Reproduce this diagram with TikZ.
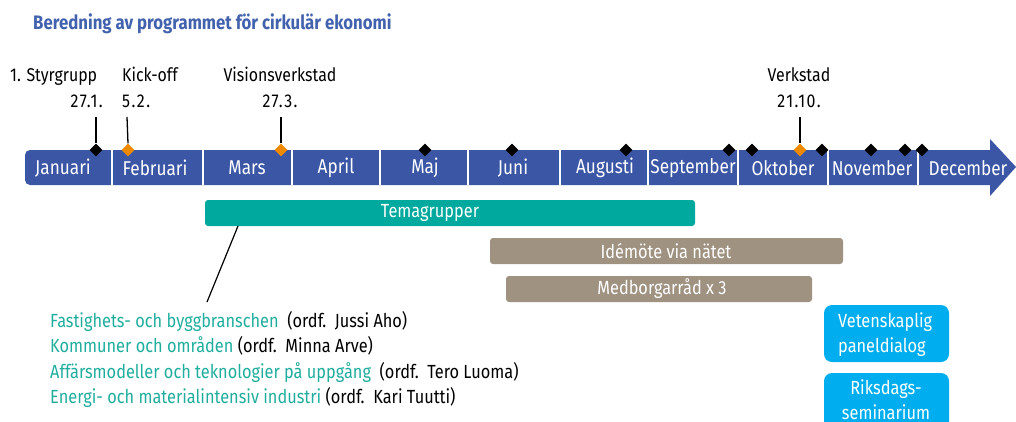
\documentclass[tikz,border=0pt]{standalone}
\usepackage{fontspec}
\setmainfont{Fira Sans}[FakeStretch=0.86]
\usepackage{tikz}
\usetikzlibrary{shapes.geometric}

\definecolor{bar_blue}{HTML}{3A56A5}
\definecolor{title_blue}{HTML}{4262AE}
\definecolor{tema_teal}{HTML}{00A99D}
\definecolor{tema_text}{HTML}{1FAE9E}
\definecolor{taupe}{HTML}{A09281}
\definecolor{cyan_box}{HTML}{00AEEF}
\definecolor{ms_orange}{HTML}{EF8A00}

\begin{document}
\begin{tikzpicture}[x=1pt, y=-1pt,
		month_style/.style={text=white,font=\fontsize{20}{20}\selectfont,inner sep=0pt},
		label_style/.style={font=\fontsize{18.5}{20}\selectfont,inner sep=0pt},
		date_style/.style={font=\fontsize{18.5}{20}\selectfont\addfontfeature{LetterSpace=8},inner sep=0pt},
		dia_style/.style={diamond,fill=black,inner sep=0pt,minimum size=13pt},
		key_style/.style={diamond,fill=ms_orange,inner sep=0pt,minimum size=13pt},
		stem_style/.style={draw=black,line width=1.3pt},
		bar_style/.style={rounded corners=3pt,text=white,font=\fontsize{19}{20}\selectfont},
		box_style/.style={fill=cyan_box,rounded corners=8pt},
		leg_style/.style={anchor=base west,inner sep=0pt,font=\fontsize{19}{20}\selectfont}]
		
		\useasboundingbox (0,0) rectangle (1016,421);
		\clip (0,0) rectangle (1016,421);
		
		\node[anchor=base west,inner sep=0pt,text=title_blue,font=\bfseries\fontsize{19.5}{20}\selectfont] (title) at (33,29) {Beredning av programmet för cirkulär ekonomi};
		
		% month band
		\fill[bar_blue] (990,150) -- (30,150) [rounded corners=5pt] -- (25,150) -- (25,185) [sharp corners] -- (990,185) -- (990,196) -- (1016,167) -- (990,139) -- cycle;
		\foreach \x in {112,203,292,380,468,560,648,738,828,918}
			\draw[white,line width=2pt] (\x,150) -- (\x,185);
		
		\node[month_style] (jan) at (63,168)  {Januari};
		\node[month_style] (feb) at (155,168) {Februari};
		\node[month_style] (mar) at (247,168) {Mars};
		\node[month_style] (apr) at (336,168) {April};
		\node[month_style] (maj) at (425,168) {Maj};
		\node[month_style] (jun) at (513,168) {Juni};
		\node[month_style] (aug) at (605,168) {Augusti};
		\node[month_style] (sep) at (693,168) {September};
		\node[month_style] (okt) at (783,168) {Oktober};
		\node[month_style] (nov) at (872,168) {November};
		\node[month_style] (dec) at (968,168) {December};
		
		% milestones
		\node[label_style,anchor=base west] (styr) at (10,81)  {1. Styrgrupp};
		\node[date_style,anchor=base east] (styrd) at (103,107) {27.1.};
		\node[label_style,anchor=base west] (kick) at (122,81)  {Kick-off};
		\node[date_style,anchor=base west] (kickd) at (122,107) {5.2.};
		\node[label_style,anchor=base] (vis) at (280,81)  {Visionsverkstad};
		\node[date_style,anchor=base] (visd) at (280,107) {27.3.};
		\node[label_style,anchor=base] (verk) at (799,81)  {Verkstad};
		\node[date_style,anchor=base] (verkd) at (799,107) {21.10.};
		
		\coordinate (s_styr) at (96,117);
		\coordinate (s_kick) at (127,117);
		\coordinate (s_vis) at (281,117);
		\coordinate (s_verk) at (800,117);
		
		\node[dia_style] (d1) at (96,150) {};
		\node[key_style] (d2) at (128,150) {};
		\node[key_style] (d3) at (281,150) {};
		\node[dia_style] (d4) at (425,150) {};
		\node[dia_style] (d5) at (512,150) {};
		\node[dia_style] (d6) at (626,150) {};
		\node[dia_style] (d7) at (729,150) {};
		\node[dia_style] (d8) at (752,150) {};
		\node[key_style] (d9) at (800,150) {};
		\node[dia_style] (d10) at (822,150) {};
		\node[dia_style] (d11) at (871,150) {};
		\node[dia_style] (d12) at (905,150) {};
		\node[dia_style] (d13) at (922,150) {};
		
		\draw[stem_style] (s_styr) -- (d1.north);
		\draw[stem_style] (s_kick) -- (d2.north);
		\draw[stem_style] (s_vis) -- (d3.north);
		\draw[stem_style] (s_verk) -- (d9.north);
		
		% activities
		\fill[tema_teal,rounded corners=3pt] (205,200) rectangle (695,226);
		\node[bar_style] (tema) at (430,213) {Temagrupper};
		\fill[taupe,rounded corners=3pt] (490,238) rectangle (843,264);
		\node[bar_style] (ide) at (666,251) {Idémöte via nätet};
		\fill[taupe,rounded corners=3pt] (506,276) rectangle (812,302);
		\node[bar_style] (med) at (662,289) {Medborgarråd x 3};
		
		\fill[box_style] (824,305) rectangle (949,362);
		\node[anchor=north west,align=left,text=white,inner sep=0pt,font=\fontsize{19}{25}\selectfont] (vet) at (838,312) {Vetenskaplig\\paneldialog};
		\fill[box_style] (824,373) rectangle (949,440);
		\node[anchor=north,align=center,text=white,inner sep=0pt,font=\fontsize{19}{25}\selectfont] (riks) at (886,379) {Riksdags-\\seminarium};
		
		% theme groups
		\node[leg_style] (leg1) at (50,327) {\textcolor{tema_text}{Fastighets- och byggbranschen}\ \ (ordf.\ \ Jussi Aho)};
		\node[leg_style] (leg2) at (50,352) {\textcolor{tema_text}{Kommuner och områden} (ordf.\ \ Minna Arve)};
		\node[leg_style] (leg3) at (50,378) {\textcolor{tema_text}{Affärsmodeller och teknologier på uppgång}\ \ (ordf.\ \ Tero Luoma)};
		\node[leg_style] (leg4) at (50,403) {\textcolor{tema_text}{Energi- och materialintensiv industri} (ordf.\ \ Kari Tuutti)};
		
		\coordinate (t_pt) at (238,226);
		\coordinate (l_pt) at (207,302);
		\draw[line width=1.2pt] (t_pt) -- (l_pt);
		
		\end{tikzpicture}
\end{document}
